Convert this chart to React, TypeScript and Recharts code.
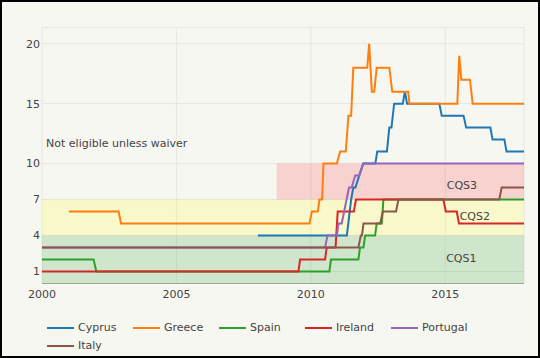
import React from 'react';
import {
  LineChart, Line, XAxis, YAxis, CartesianGrid, ReferenceArea, ReferenceDot, Legend
} from 'recharts';

type Pt = { t: number; v: number };

const cyprus: Pt[] = [
  { t: 2008.03, v: 4 }, { t: 2011.34, v: 4 }, { t: 2011.5, v: 7 }, { t: 2011.58, v: 8 },
  { t: 2011.66, v: 8 }, { t: 2011.8, v: 9 }, { t: 2011.95, v: 10 }, { t: 2012.4, v: 10 },
  { t: 2012.47, v: 11 }, { t: 2012.83, v: 11 }, { t: 2012.92, v: 13 }, { t: 2013.0, v: 13 },
  { t: 2013.1, v: 15 }, { t: 2013.42, v: 15 }, { t: 2013.5, v: 16 }, { t: 2013.58, v: 15 },
  { t: 2014.78, v: 15 }, { t: 2014.87, v: 14 }, { t: 2015.68, v: 14 }, { t: 2015.78, v: 13 },
  { t: 2016.68, v: 13 }, { t: 2016.76, v: 12 }, { t: 2017.2, v: 12 }, { t: 2017.28, v: 11 },
  { t: 2017.93, v: 11 },
];

const greece: Pt[] = [
  { t: 2001.0, v: 6 }, { t: 2002.85, v: 6 }, { t: 2002.94, v: 5 }, { t: 2009.95, v: 5 },
  { t: 2010.04, v: 6 }, { t: 2010.26, v: 6 }, { t: 2010.32, v: 7 }, { t: 2010.42, v: 7 },
  { t: 2010.47, v: 10 }, { t: 2010.97, v: 10 }, { t: 2011.09, v: 11 }, { t: 2011.3, v: 11 },
  { t: 2011.4, v: 14 }, { t: 2011.5, v: 14 }, { t: 2011.58, v: 18 }, { t: 2012.1, v: 18 },
  { t: 2012.17, v: 20 }, { t: 2012.27, v: 16 }, { t: 2012.36, v: 16 }, { t: 2012.45, v: 18 },
  { t: 2012.92, v: 18 }, { t: 2013.03, v: 16 }, { t: 2013.62, v: 16 }, { t: 2013.67, v: 15 },
  { t: 2015.45, v: 15 }, { t: 2015.52, v: 19 }, { t: 2015.6, v: 17 }, { t: 2015.92, v: 17 },
  { t: 2016.02, v: 15 }, { t: 2017.93, v: 15 },
];

const spain: Pt[] = [
  { t: 2000, v: 2 }, { t: 2001.92, v: 2 }, { t: 2002.02, v: 1 }, { t: 2010.69, v: 1 },
  { t: 2010.75, v: 2 }, { t: 2011.77, v: 2 }, { t: 2011.83, v: 3 }, { t: 2011.96, v: 3 },
  { t: 2012.02, v: 4 }, { t: 2012.39, v: 4 }, { t: 2012.45, v: 5 }, { t: 2012.64, v: 5 },
  { t: 2012.7, v: 7 }, { t: 2017.93, v: 7 },
];

const ireland: Pt[] = [
  { t: 2000, v: 1 }, { t: 2009.54, v: 1 }, { t: 2009.6, v: 2 }, { t: 2010.53, v: 2 },
  { t: 2010.59, v: 3 }, { t: 2010.92, v: 3 }, { t: 2011.0, v: 6 }, { t: 2011.6, v: 6 },
  { t: 2011.68, v: 7 }, { t: 2014.93, v: 7 }, { t: 2015.02, v: 6 }, { t: 2015.43, v: 6 },
  { t: 2015.51, v: 5 }, { t: 2017.93, v: 5 },
];

const portugal: Pt[] = [
  { t: 2000, v: 3 }, { t: 2010.53, v: 3 }, { t: 2010.62, v: 4 }, { t: 2010.97, v: 4 },
  { t: 2011.03, v: 5 }, { t: 2011.15, v: 5 }, { t: 2011.24, v: 6 }, { t: 2011.33, v: 7 },
  { t: 2011.42, v: 8 }, { t: 2011.52, v: 8 }, { t: 2011.65, v: 9 }, { t: 2011.8, v: 9 },
  { t: 2011.95, v: 10 }, { t: 2017.93, v: 10 },
];

const italy: Pt[] = [
  { t: 2000, v: 3 }, { t: 2011.77, v: 3 }, { t: 2011.86, v: 4 }, { t: 2011.9, v: 4 },
  { t: 2011.96, v: 5 }, { t: 2012.58, v: 5 }, { t: 2012.68, v: 6 }, { t: 2013.17, v: 6 },
  { t: 2013.26, v: 7 }, { t: 2017.01, v: 7 }, { t: 2017.1, v: 8 }, { t: 2017.93, v: 8 },
];

const series = [
  { name: 'Cyprus', color: '#1f77b4', data: cyprus },
  { name: 'Greece', color: '#ff7f0e', data: greece },
  { name: 'Spain', color: '#2ca02c', data: spain },
  { name: 'Ireland', color: '#d62728', data: ireland },
  { name: 'Portugal', color: '#9467bd', data: portugal },
  { name: 'Italy', color: '#8c564b', data: italy },
];

const xTicks = [2000, 2005, 2010, 2015];
const yTicks = [1, 4, 7, 10, 15, 20];

// credit quality step bands
const bands = [
  { y1: 0, y2: 4, x1: 2000, fill: '#2ca02c', op: 0.19 },
  { y1: 4, y2: 7, x1: 2000, fill: '#ffff00', op: 0.16 },
  { y1: 7, y2: 10, x1: 2008.73, fill: '#ff0000', op: 0.15 },
];

const notes = [
  { t: 2002.78, v: 11.7, text: 'Not eligible unless waiver' },
  { t: 2015.62, v: 8.2, text: 'CQS3' },
  { t: 2016.1, v: 5.6, text: 'CQS2' },
  { t: 2015.6, v: 2.1, text: 'CQS1' },
];

const font = '"DejaVu Sans", Verdana, sans-serif';

// legend in trace order (recharts would sort it by name)
const renderLegend = () => (
  <div style={{ display: 'flex', flexWrap: 'wrap', height: 38, paddingTop: 5, boxSizing: 'border-box' }}>
    {series.map((s) => (
      <div key={s.name} style={{ width: 86, height: 18, display: 'flex', alignItems: 'center' }}>
        <svg width={31} height={18}>
          <line x1={0} y1={9} x2={27} y2={9} stroke={s.color} strokeWidth={2} />
        </svg>
        <span style={{ fontFamily: font, fontSize: 11, color: '#444' }}>{s.name}</span>
      </div>
    ))}
  </div>
);

const App: React.FC = () => {
  return (
    <div style={{
      position: 'absolute', left: 0, top: 0, width: 540, height: 358, boxSizing: 'border-box',
      border: '2px solid #000', background: '#f7f7f2'
    }}>
      <LineChart width={536} height={354} margin={{ top: 25.5, right: 14, left: 0, bottom: 4.5 }}>
        <CartesianGrid stroke="#e6e6e0" strokeWidth={1} />
        <XAxis
          dataKey="t" type="number" domain={[2000, 2017.93]} ticks={xTicks}
          allowDuplicatedCategory={false} height={30}
          tickLine={false} tickSize={0} tickMargin={7}
          axisLine={{ stroke: '#9aa89a' }}
          tick={{ fontFamily: font, fontSize: 11, fill: '#444' }}
        />
        <YAxis
          type="number" domain={[0, 21.35]} ticks={yTicks} width={40}
          tickLine={false} tickSize={0} tickMargin={2} axisLine={false}
          tick={{ fontFamily: font, fontSize: 11, fill: '#444' }}
        />
        {bands.map((b, i) => (
          <ReferenceArea key={i} x1={b.x1} x2={2017.93} y1={b.y1} y2={b.y2}
            fill={b.fill} fillOpacity={b.op} stroke="none" />
        ))}
        {series.map((s) => (
          <Line key={s.name} data={s.data} dataKey="v" name={s.name} stroke={s.color}
            strokeWidth={2} dot={false} activeDot={false} type="linear" isAnimationActive={false} />
        ))}
        {notes.map((n) => (
          <ReferenceDot key={n.text} x={n.t} y={n.v} r={0} fill="none" stroke="none"
            label={{ value: n.text, position: 'center', fontFamily: font, fontSize: 11, fill: '#444' }} />
        ))}
        <Legend content={renderLegend} verticalAlign="bottom" align="left"
          wrapperStyle={{ left: 45, width: 480 }} />
      </LineChart>
    </div>
  );
};

export default App;
